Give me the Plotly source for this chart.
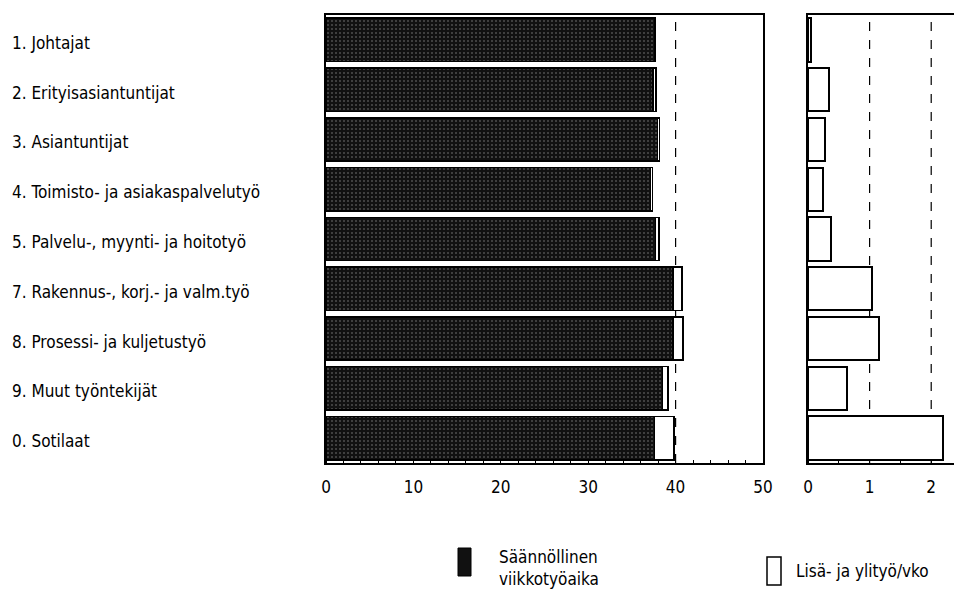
import plotly.graph_objects as go

categories = [
    "1. Johtajat",
    "2. Erityisasiantuntijat",
    "3. Asiantuntijat",
    "4. Toimisto- ja asiakaspalvelutyö",
    "5. Palvelu-, myynti- ja hoitotyö",
    "7. Rakennus-, korj.- ja valm.työ",
    "8. Prosessi- ja kuljetustyö",
    "9. Muut työntekijät",
    "0. Sotilaat",
]
regular_hours = [37.6, 37.4, 37.9, 37.1, 37.7, 39.7, 39.7, 38.5, 37.6]
extra_hours = [0.05, 0.34, 0.27, 0.25, 0.38, 1.04, 1.16, 0.64, 2.19]
left_ticks = [0, 10, 20, 30, 40, 50]
right_ticks = [0, 1, 2]
legend_regular = "Säännöllinen<br>viikkotyöaika"
legend_extra = "Lisä- ja ylityö/vko"

W, H = 954, 597
ML, MR, MT, MB = 0, 0, 15, 134
PH = H - MT - MB
FONT = "DejaVu Sans Condensed, Roboto, sans-serif"
FS = 17

def px(x):
    return x / W

def py(y):
    return (H - MB - y) / PH

fig = go.Figure()

fig.add_trace(go.Bar(
    y=categories, x=regular_hours, orientation="h",
    marker=dict(color="#111111", line=dict(color="black", width=1.5),
                pattern=dict(shape=".", fgcolor="#8a8a8a", bgcolor="#111111",
                             size=4, solidity=0.2)),
    xaxis="x", yaxis="y", name="regular", showlegend=False,
))
fig.add_trace(go.Bar(
    y=categories, x=extra_hours, orientation="h",
    marker=dict(color="white", line=dict(color="black", width=1.5)),
    xaxis="x", yaxis="y", name="extra", showlegend=False,
))
fig.add_trace(go.Bar(
    y=categories, x=extra_hours, orientation="h",
    marker=dict(color="white", line=dict(color="black", width=2)),
    xaxis="x2", yaxis="y2", name="extra2", showlegend=False,
))

axis_font = dict(family=FONT, size=FS, color="black")

fig.update_layout(
    width=W, height=H,
    margin=dict(l=ML, r=MR, t=MT, b=MB, autoexpand=False),
    paper_bgcolor="white", plot_bgcolor="white",
    barmode="stack", bargap=0.13,
    font=dict(family=FONT, color="black"),
    xaxis=dict(domain=[px(326), px(763)], range=[0, 50], tickvals=left_ticks,
               showgrid=False, zeroline=False, showline=True, linecolor="black",
               linewidth=2, mirror=True, ticks="outside", ticklen=8,
               tickcolor="rgba(0,0,0,0)",
               tickfont=axis_font, anchor="y", automargin=False,
               minor=dict(dtick=2, ticks="inside", ticklen=3, tickcolor="black")),
    yaxis=dict(domain=[0, 1], autorange="reversed", showticklabels=False,
               showgrid=False, zeroline=False, showline=True, linecolor="black",
               linewidth=2, mirror=True, ticks="", anchor="x", automargin=False),
    xaxis2=dict(domain=[px(808), 1.0], range=[0, 2.37], tickvals=right_ticks,
                showgrid=False, zeroline=False, showline=True, linecolor="black",
                linewidth=2, mirror=True, ticks="outside", ticklen=8,
                tickcolor="rgba(0,0,0,0)",
                tickfont=axis_font, anchor="y2", automargin=False,
                minor=dict(dtick=0.5, ticks="inside", ticklen=3, tickcolor="black")),
    yaxis2=dict(domain=[0, 1], autorange="reversed", showticklabels=False,
                showgrid=False, zeroline=False, showline=True, linecolor="black",
                linewidth=2, ticks="", anchor="x2", matches="y", automargin=False),
)

shapes = []
for xv, xr in [(40, "x"), (1, "x2"), (2, "x2")]:
    shapes.append(dict(type="line", xref=xr, yref="paper", x0=xv, x1=xv,
                       y0=0, y1=1, layer="below",
                       line=dict(color="black", width=1.2, dash="dash")))

# legend swatches
shapes.append(dict(type="rect", xref="paper", yref="paper",
                   x0=px(458), x1=px(471), y0=py(576), y1=py(548),
                   fillcolor="#111111", line=dict(color="black", width=1)))
shapes.append(dict(type="rect", xref="paper", yref="paper",
                   x0=px(767), x1=px(781), y0=py(585), y1=py(557),
                   fillcolor="white", line=dict(color="black", width=1.5)))
fig.update_layout(shapes=shapes)

annotations = []
for c in categories:
    annotations.append(dict(x=px(10), y=c, xref="paper", yref="y", text=c,
                            showarrow=False, xanchor="left", yanchor="middle",
                            yshift=-3, font=dict(family=FONT, size=FS, color="black")))
annotations.append(dict(x=px(497), y=py(545), xref="paper", yref="paper",
                        text=legend_regular, showarrow=False, xanchor="left",
                        yanchor="top", align="left",
                        font=dict(family=FONT, size=FS, color="black")))
annotations.append(dict(x=px(794), y=py(571), xref="paper", yref="paper",
                        text=legend_extra, showarrow=False, xanchor="left",
                        yanchor="middle", align="left",
                        font=dict(family=FONT, size=FS, color="black")))
fig.update_layout(annotations=annotations)

fig.write_html("out.html", config={"displayModeBar": False},
               post_script="document.body.style.margin='0';")
